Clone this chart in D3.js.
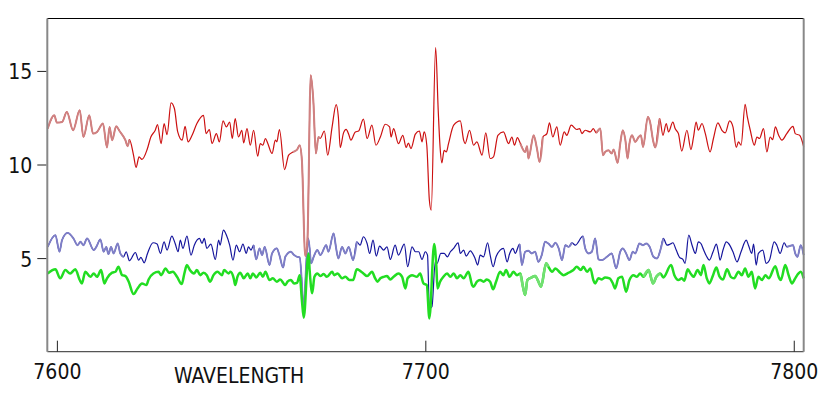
<!DOCTYPE html>
<html>
<head>
<meta charset="utf-8">
<script src="https://cdn.jsdelivr.net/npm/d3@7"></script>
<style>
  body { margin: 0; background: #fff; }
  text { font-family: "DejaVu Sans Condensed", "DejaVu Sans", sans-serif; font-stretch: condensed; }
</style>
</head>
<body>
<div id="chart"></div>
<script>
// tick labels
var xTicks = [7600, 7700, 7800];
var yTicks = [5, 10, 15];
var xTitle = "WAVELENGTH";

// spectra: [wavelength, flux]
var redSeries = [
  [7597.5,11.92],[7599.3,12.63],[7600.0,12.24],[7601.4,12.27],[7602.7,12.81],[7604.4,11.83],[7606.2,12.90],[7607.2,11.47],
  [7608.8,12.63],[7609.8,11.65],[7610.9,11.74],[7612.5,12.19],[7613.6,10.91],[7614.3,12.01],[7615.0,11.30],[7616.1,12.04],
  [7617.0,11.79],[7618.6,11.30],[7619.2,10.98],[7619.7,11.33],[7620.8,10.50],[7621.5,9.84],[7622.3,10.41],[7623.1,10.27],
  [7624.5,10.80],[7625.5,11.47],[7626.7,11.83],[7627.3,12.13],[7628.3,11.12],[7629.1,12.19],[7629.9,11.60],[7631.0,13.29],
  [7631.9,12.99],[7632.8,11.74],[7634.0,11.30],[7634.8,12.04],[7635.6,11.21],[7636.7,11.56],[7638.0,12.19],[7639.8,12.63],
  [7640.5,11.65],[7641.4,11.87],[7642.1,11.12],[7643.3,11.65],[7644.1,11.21],[7645.1,12.33],[7646.0,12.01],[7646.9,12.27],
  [7647.6,11.39],[7648.4,12.45],[7649.3,11.47],[7650.2,11.83],[7650.7,11.15],[7651.6,11.92],[7652.5,11.03],[7653.4,11.83],
  [7654.5,10.44],[7655.2,11.12],[7655.9,11.03],[7656.6,11.39],[7657.2,11.15],[7658.4,10.59],[7659.3,11.30],[7659.7,11.21],
  [7660.4,11.87],[7661.8,9.73],[7662.9,10.50],[7664.1,10.67],[7665.2,10.80],[7665.9,11.03],[7666.5,10.23],[7667.4,5.11],
  [7668.0,5.96],[7668.9,14.77],[7669.6,13.43],[7670.3,10.59],[7671.0,11.47],[7671.5,11.40],[7672.6,11.79],[7673.5,10.50],
  [7674.7,12.01],[7675.8,13.20],[7676.4,12.54],[7676.9,10.91],[7677.8,11.69],[7678.5,11.88],[7679.2,11.62],[7679.8,11.30],
  [7681.0,11.74],[7681.9,11.79],[7683.2,12.42],[7684.2,11.39],[7685.5,12.10],[7686.6,11.03],[7687.8,11.47],[7689.1,12.15],
  [7690.3,12.01],[7690.7,11.47],[7691.4,11.92],[7692.7,11.12],[7693.9,11.56],[7694.8,10.91],[7695.4,11.15],[7696.1,10.85],
  [7697.3,11.62],[7698.4,11.79],[7699.1,11.21],[7699.7,11.74],[7700.4,11.03],[7701.1,8.09],[7701.6,7.56],[7702.8,16.24],
  [7703.5,12.90],[7704.0,10.94],[7704.5,10.09],[7705.1,10.76],[7705.7,10.67],[7706.3,11.12],[7707.7,12.10],[7709.5,12.33],
  [7710.4,11.30],[7710.8,11.12],[7712.0,11.83],[7713.1,11.03],[7714.0,11.21],[7715.4,10.50],[7716.4,11.69],[7717.6,10.32],
  [7718.5,10.41],[7719.7,11.56],[7721.2,11.74],[7722.6,11.12],[7723.5,11.47],[7724.2,11.03],[7725.0,11.44],[7725.8,11.12],
  [7727.1,10.67],[7727.6,10.98],[7728.0,10.32],[7729.4,11.56],[7730.3,10.85],[7731.0,10.14],[7731.9,11.47],[7733.0,11.65],
  [7733.7,12.22],[7734.6,11.47],[7735.7,12.01],[7736.6,11.03],[7737.7,11.74],[7738.4,11.56],[7739.6,12.10],[7741.1,11.87],
  [7741.9,11.92],[7742.5,11.65],[7743.4,11.83],[7744.8,11.74],[7745.6,11.92],[7746.4,11.69],[7747.5,11.92],[7748.2,10.50],
  [7748.8,10.67],[7749.7,10.76],[7750.6,10.59],[7751.1,10.80],[7752.2,10.09],[7752.9,11.12],[7753.6,11.83],[7754.3,11.30],
  [7754.9,10.32],[7755.4,11.12],[7756.1,11.56],[7757.0,11.21],[7757.9,11.47],[7758.5,11.56],[7759.1,10.94],[7760.4,12.54],
  [7761.0,12.27],[7761.8,11.30],[7762.4,10.91],[7763.6,12.45],[7764.5,11.56],[7765.4,12.19],[7766.0,11.74],[7767.2,12.27],
  [7767.8,11.92],[7768.7,11.65],[7769.6,10.72],[7771.0,11.83],[7772.1,10.80],[7772.8,11.47],[7773.5,12.27],[7774.1,11.83],
  [7775.1,12.19],[7776.0,11.65],[7777.3,10.67],[7778.2,11.39],[7779.4,12.22],[7780.5,11.83],[7781.4,11.69],[7782.6,12.33],
  [7783.5,12.01],[7784.4,10.91],[7785.0,11.21],[7785.7,11.03],[7786.8,13.22],[7787.4,12.54],[7788.2,11.83],[7789.3,11.03],
  [7790.0,11.47],[7790.7,11.39],[7791.8,11.92],[7792.7,10.67],[7793.6,11.47],[7794.3,11.33],[7795.0,12.01],[7795.9,11.56],
  [7796.8,11.30],[7798.1,11.65],[7799.8,12.04],[7800.4,11.65],[7801.6,11.56],[7802.7,10.95]
];

var blueSeries = [
  [7597.5,5.60],[7599.6,6.23],[7600.7,5.34],[7601.4,5.96],[7602.9,6.35],[7604.5,6.05],[7605.6,5.69],[7606.4,5.87],
  [7607.2,5.69],[7608.2,6.05],[7610.0,5.43],[7610.7,5.60],[7611.8,6.00],[7612.7,5.34],[7613.4,5.60],[7614.0,5.21],
  [7614.7,5.60],[7615.4,5.25],[7616.5,5.78],[7617.2,5.25],[7618.1,5.07],[7618.8,5.34],[7619.7,4.86],[7621.3,5.30],
  [7622.2,4.89],[7622.8,5.04],[7623.7,4.75],[7624.6,5.25],[7626.1,5.82],[7627.2,5.75],[7628.1,5.25],[7629.1,5.87],
  [7629.9,5.43],[7631.2,6.17],[7632.1,5.78],[7632.9,5.34],[7633.5,5.96],[7634.2,5.52],[7635.3,6.17],[7636.4,5.16],
  [7637.3,5.69],[7638.7,6.05],[7639.4,5.78],[7640.0,6.05],[7640.7,5.52],[7641.8,5.75],[7643.0,4.93],[7643.9,5.96],
  [7644.3,5.69],[7645.2,6.49],[7646.0,6.23],[7646.9,5.69],[7647.8,4.89],[7648.7,5.69],[7649.6,5.34],[7650.5,5.75],
  [7651.4,5.25],[7652.0,5.60],[7652.7,5.43],[7653.4,5.69],[7654.1,4.93],[7655.0,5.52],[7655.7,5.16],[7656.4,5.60],
  [7657.7,4.63],[7658.4,5.25],[7659.7,5.52],[7660.4,5.16],[7661.4,4.50],[7662.0,5.07],[7663.5,5.34],[7664.4,5.16],
  [7665.2,5.07],[7665.9,5.04],[7666.5,3.65],[7666.9,2.30],[7668.2,6.05],[7668.6,5.52],[7669.0,4.72],[7669.7,5.07],
  [7670.7,5.43],[7671.5,5.16],[7673.1,5.69],[7673.7,5.34],[7675.1,6.32],[7675.8,5.52],[7676.4,4.98],[7677.4,5.60],
  [7678.3,5.25],[7679.2,5.60],[7680.4,4.89],[7681.4,5.87],[7682.3,5.69],[7683.2,6.14],[7684.2,5.78],[7684.9,5.25],
  [7685.8,5.96],[7686.7,5.11],[7687.6,5.64],[7688.7,5.43],[7689.6,5.60],[7690.5,4.93],[7691.8,5.69],[7692.7,5.16],
  [7694.3,5.75],[7695.2,4.54],[7696.4,5.60],[7697.3,5.34],[7698.2,5.34],[7699.1,4.93],[7700.0,5.34],[7700.6,5.16],
  [7701.1,2.30],[7701.8,2.40],[7702.7,4.80],[7703.2,4.72],[7704.2,5.25],[7705.1,5.25],[7706.0,5.07],[7706.8,5.34],
  [7707.7,5.52],[7708.9,5.82],[7709.5,5.25],[7710.4,5.43],[7711.1,5.11],[7712.2,5.39],[7713.5,4.98],[7714.2,4.63],
  [7714.9,5.16],[7715.8,5.07],[7716.9,5.82],[7717.6,5.16],[7718.4,4.54],[7719.2,5.07],[7720.3,5.43],[7721.2,5.52],
  [7722.2,4.80],[7722.9,5.25],[7723.8,5.52],[7724.4,5.25],[7725.6,5.75],[7726.2,4.63],[7727.1,5.34],[7728.0,5.39],
  [7728.9,5.25],[7729.8,5.34],[7730.7,4.80],[7731.6,5.16],[7732.5,5.87],[7733.4,5.78],[7734.4,5.60],[7735.3,5.82],
  [7736.2,5.52],[7737.1,4.89],[7738.0,5.69],[7738.9,5.60],[7739.8,5.82],[7740.7,5.69],[7742.8,6.17],[7743.4,5.52],
  [7744.3,5.25],[7745.2,5.34],[7746.1,6.05],[7747.0,4.93],[7747.9,4.89],[7749.3,5.07],[7750.6,5.25],[7751.8,4.45],
  [7752.9,5.34],[7753.6,5.52],[7754.5,5.25],[7755.4,4.89],[7756.3,5.34],[7757.0,5.25],[7758.1,5.78],[7759.1,5.69],
  [7760.0,5.78],[7760.9,5.60],[7761.9,5.07],[7762.9,4.98],[7763.8,5.43],[7764.6,6.05],[7765.6,5.69],[7766.5,5.75],
  [7767.2,5.82],[7768.1,5.43],[7769.0,5.04],[7769.9,4.93],[7770.5,4.72],[7771.5,6.23],[7772.4,5.69],[7773.3,5.25],
  [7774.1,5.87],[7774.8,5.78],[7775.5,5.46],[7776.4,5.07],[7777.1,4.89],[7778.1,5.34],[7779.0,5.75],[7779.6,5.25],
  [7780.0,4.89],[7780.8,5.43],[7781.7,5.87],[7782.3,5.78],[7783.5,5.34],[7784.6,4.80],[7785.7,5.34],[7787.1,5.96],
  [7787.7,5.69],[7788.6,5.25],[7789.1,5.75],[7789.8,4.63],[7790.4,5.25],[7791.6,5.43],[7792.5,4.72],[7793.4,4.89],
  [7794.7,5.87],[7795.4,5.69],[7796.3,5.25],[7797.4,5.82],[7798.1,5.60],[7799.8,5.69],[7800.4,5.25],[7801.0,5.07],
  [7801.9,5.69],[7802.7,5.16]
];

var greenSeries = [
  [7597.5,4.18],[7599.6,4.40],[7600.9,3.92],[7602.3,4.36],[7603.6,4.18],[7605.0,4.40],[7606.2,3.83],[7606.8,3.65],
  [7607.7,4.27],[7609.1,4.00],[7610.0,4.18],[7610.9,4.00],[7612.0,4.36],[7612.9,3.65],[7613.6,3.92],[7615.0,4.22],
  [7615.9,4.27],[7616.7,4.54],[7617.7,4.09],[7618.6,4.04],[7619.5,3.74],[7620.8,3.08],[7621.9,3.38],[7623.1,3.65],
  [7624.3,3.56],[7624.9,3.86],[7626.2,4.18],[7627.6,4.27],[7628.3,4.09],[7629.5,4.45],[7630.4,4.22],[7631.5,4.27],
  [7632.6,4.00],[7633.9,3.61],[7634.6,4.18],[7635.3,4.63],[7636.1,4.36],[7637.2,4.18],[7638.0,4.36],[7638.9,4.09],
  [7639.8,4.22],[7640.7,4.09],[7641.6,3.74],[7642.5,4.09],[7643.6,4.27],[7644.8,4.09],[7645.4,4.36],[7646.6,4.18],
  [7647.1,4.27],[7648.0,3.92],[7648.4,3.56],[7649.0,4.00],[7649.8,4.22],[7650.7,3.92],[7651.8,4.18],[7652.5,3.92],
  [7653.2,4.18],[7654.1,3.97],[7655.2,4.22],[7655.9,4.00],[7656.6,4.27],[7657.7,3.83],[7658.6,3.92],[7659.7,3.74],
  [7660.6,3.86],[7662.0,3.56],[7662.6,3.74],[7663.5,3.83],[7664.4,3.65],[7665.2,3.68],[7665.9,4.09],[7666.5,2.76],
  [7667.0,1.82],[7668.3,5.25],[7668.6,4.36],[7669.3,3.12],[7669.9,4.00],[7670.7,4.18],[7671.5,4.04],[7672.4,4.15],
  [7673.3,4.00],[7674.7,4.27],[7675.3,4.09],[7676.2,4.18],[7677.4,3.92],[7678.3,4.00],[7679.4,3.83],[7680.4,3.83],
  [7681.4,4.40],[7682.3,4.32],[7683.2,4.18],[7684.2,4.04],[7685.5,4.27],[7686.4,3.92],[7687.0,3.74],[7687.8,3.92],
  [7688.7,4.00],[7689.6,4.04],[7690.5,3.86],[7691.4,4.00],[7692.7,4.18],[7693.7,4.00],[7694.6,3.38],[7695.2,3.92],
  [7696.4,4.09],[7697.7,4.00],[7698.6,4.18],[7699.5,3.65],[7700.4,3.56],[7701.1,1.78],[7702.4,5.75],[7703.0,4.54],
  [7703.3,3.38],[7704.0,3.74],[7704.9,4.00],[7705.9,4.18],[7706.8,4.00],[7707.7,4.18],[7708.6,3.92],[7709.5,4.09],
  [7710.4,3.92],[7711.7,4.27],[7712.7,3.56],[7713.1,3.47],[7714.0,3.74],[7714.9,3.83],[7715.8,3.74],[7716.7,3.86],
  [7717.6,3.74],[7718.4,3.33],[7719.2,3.74],[7720.3,4.27],[7721.2,4.09],[7721.9,4.36],[7722.9,4.00],[7723.9,4.27],
  [7724.9,4.09],[7725.8,4.18],[7726.5,3.47],[7727.1,3.03],[7727.7,3.83],[7728.9,3.97],[7729.8,4.04],[7730.7,3.74],
  [7731.4,3.47],[7732.8,4.72],[7733.4,4.54],[7734.4,4.27],[7735.3,4.45],[7736.6,4.22],[7737.5,4.09],[7738.9,4.22],
  [7740.2,4.36],[7741.1,4.54],[7742.2,4.36],[7742.9,4.54],[7743.9,4.27],[7744.8,4.45],[7745.6,3.83],[7746.1,3.65],
  [7747.0,3.92],[7747.9,3.86],[7748.8,3.97],[7750.0,3.92],[7750.9,3.65],[7751.5,3.38],[7752.4,3.92],[7753.4,4.00],
  [7754.5,3.20],[7755.4,3.83],[7756.5,4.09],[7757.4,4.00],[7758.3,4.18],[7759.2,4.00],[7760.6,4.36],[7761.8,3.65],
  [7762.7,4.00],[7763.8,4.18],[7764.6,3.97],[7766.7,4.63],[7767.6,4.09],[7768.7,3.83],[7769.6,3.92],[7770.3,3.79],
  [7771.2,4.40],[7772.1,4.15],[7772.8,4.00],[7773.9,4.36],[7774.8,4.09],[7775.5,4.63],[7776.4,3.92],[7777.1,3.65],
  [7778.1,4.09],[7779.0,4.50],[7779.8,4.04],[7780.8,3.86],[7781.9,4.40],[7782.9,4.00],[7783.8,3.92],[7785.0,4.27],
  [7785.9,4.09],[7786.8,4.45],[7787.7,4.00],[7788.6,4.27],[7789.5,3.38],[7790.4,4.00],[7791.4,3.83],[7792.3,4.09],
  [7793.2,3.92],[7795.0,4.57],[7795.9,4.00],[7796.5,3.83],[7797.7,4.63],[7798.6,4.09],[7799.5,3.65],[7800.4,3.92],
  [7801.3,4.18],[7801.9,4.27],[7802.7,3.92]
];

// stretches of each trace that the original plots in a washed-out tone
var redPale = [[7597, 7619.2], [7665.2, 7671], [7726.5, 7731.2], [7747.5, 7762.5]];
var bluePale = [[7597, 7617.2], [7654, 7681], [7726, 7739.5], [7743, 7763.8], [7799, 7803]];
var greenPale = [[7726.5, 7733], [7760, 7763]];

var svgWidth = 830;
var svgHeight = 395;
var margin = { top: 18.5, right: 26.3, bottom: 43.3, left: 47.3 };

var svg = d3.select("#chart")
  .append("svg")
  .attr("width", svgWidth)
  .attr("height", svgHeight);

var x = d3.scaleLinear()
  .domain([7597.4, 7802.7])
  .range([margin.left, svgWidth - margin.right]);

var y = d3.scaleLinear()
  .domain([0, 17.8])
  .range([svgHeight - margin.bottom, margin.top]);

// the original traces are smooth, so round the corners off
var line = d3.line()
  .curve(d3.curveMonotoneX)
  .x(d => x(d[0]))
  .y(d => y(d[1]));

// pick the points of one stretch, with a neighbour each side so it joins up
function stretch(series, range) {
  var idx = [];
  series.forEach(function(d, i) {
    if (d[0] >= range[0] && d[0] <= range[1]) idx.push(i);
  });
  if (!idx.length) return [];
  var a = Math.max(idx[0] - 1, 0);
  var b = Math.min(idx[idx.length - 1] + 1, series.length - 1);
  return series.slice(a, b + 1);
}

function drawTrace(series, pale, dark, paleColor, w, paleW) {
  var g = svg.append("g");
  g.append("path")
    .datum(series)
    .attr("fill", "none")
    .attr("stroke", dark)
    .attr("stroke-width", w)
    .attr("stroke-linejoin", "round")
    .attr("d", line);
  pale.forEach(function(r) {
    g.append("path")
      .datum(stretch(series, r))
      .attr("fill", "none")
      .attr("stroke", paleColor)
      .attr("stroke-width", paleW)
      .attr("stroke-linejoin", "round")
      .attr("d", line);
  });
}

drawTrace(blueSeries, bluePale, "#15159c", "#7f7fc6", 1.2, 1.9);
drawTrace(greenSeries, greenPale, "#22dd22", "#72e072", 2.5, 2.5);
drawTrace(redSeries, redPale, "#cc1010", "#cf8282", 1.2, 2);

// frame
var x0 = margin.left, x1 = svgWidth - margin.right;
var y0 = margin.top, y1 = svgHeight - margin.bottom;
svg.append("line").attr("x1", x0).attr("x2", x1).attr("y1", y0).attr("y2", y0)
  .attr("stroke", "#000").attr("stroke-width", 1.2);
svg.append("line").attr("x1", x0).attr("x2", x1).attr("y1", y1).attr("y2", y1)
  .attr("stroke", "#555").attr("stroke-width", 1.2);
svg.append("line").attr("x1", x0).attr("x2", x0).attr("y1", y0).attr("y2", y1)
  .attr("stroke", "#888").attr("stroke-width", 2);
svg.append("line").attr("x1", x1).attr("x2", x1).attr("y1", y0).attr("y2", y1)
  .attr("stroke", "#888").attr("stroke-width", 2);

// axes
var leftAxis = d3.axisLeft(y)
  .tickValues(yTicks)
  .tickSize(9)
  .tickPadding(5)
  .tickFormat(d3.format("d"));

var bottomAxis = d3.axisBottom(x)
  .tickValues(xTicks)
  .tickSize(-11)
  .tickPadding(12)
  .tickFormat(d3.format("d"));

var yAxisG = svg.append("g")
  .attr("transform", `translate(${x0 - 1}, 0)`)
  .call(leftAxis);

var xAxisG = svg.append("g")
  .attr("transform", `translate(0, ${y1})`)
  .call(bottomAxis);

[yAxisG, xAxisG].forEach(function(g) {
  g.select(".domain").remove();
  g.selectAll(".tick line").attr("stroke", "#222");
  g.selectAll(".tick text")
    .attr("fill", "#111")
    .style("font-size", "21px");
});
yAxisG.selectAll(".tick text").attr("dy", "0.38em");

// axis title
svg.append("text")
  .attr("x", 174)
  .attr("y", 383)
  .attr("fill", "#111")
  .style("font-size", "21px")
  .text(xTitle);
</script>
</body>
</html>
